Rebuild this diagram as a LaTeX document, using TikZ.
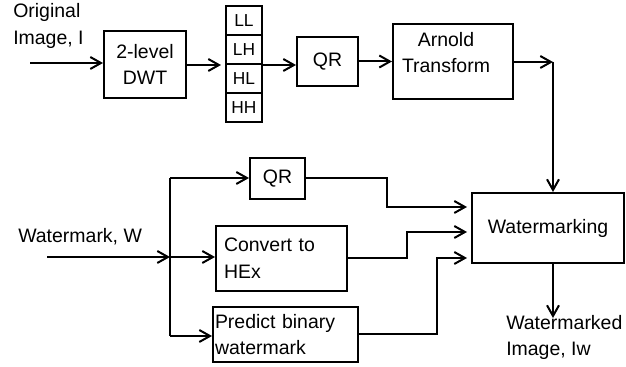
\documentclass[tikz,border=0pt]{standalone}
\usepackage{fontspec}
\setmainfont{Liberation Sans}
\usetikzlibrary{arrows.meta}
\tikzset{
  blk/.style={draw, line width=1.5pt, inner sep=0pt},
  band/.style={draw, line width=1.5pt, inner sep=0pt, minimum width=27pt, minimum height=21.75pt, font=\fontsize{13}{15}\selectfont},
  arr/.style={line width=1.5pt, -{Straight Barb[length=8pt,width=9pt]}},
  ln/.style={line width=1.5pt},
}
\begin{document}
\begin{tikzpicture}[x=0.75pt,y=-0.75pt,font=\fontsize{14.6}{20}\selectfont]
\useasboundingbox (0,0) rectangle (626,367);
% image branch
\node[anchor=west, align=left, inner sep=0pt] (orig) at (13,26) {Original\\Image, I};
\coordinate (inI) at (30,63);
\node[blk, minimum width=61.5pt, minimum height=50.25pt, align=center] (dwt) at (145,64.5) {2-level\\DWT};
\node[band] (LL) at (244,20.5) {LL};
\node[band] (LH) at (244,49.5) {LH};
\node[band] (HL) at (244,78.5) {HL};
\node[band] (HH) at (244,107.5) {HH};
\node[blk, minimum width=45.75pt, minimum height=36.75pt] (qrA) at (327.5,61.5) {QR};
\node[blk, minimum width=90pt, minimum height=56.25pt] (arnold) at (453,61.5) {};
\node[align=center, inner sep=0pt] (arnoldtxt) at (446,52.5) {Arnold\\Transform};
\node[blk, minimum width=114pt, minimum height=52.5pt] (wm) at (548,228) {Watermarking};
\coordinate (turn) at (553,62);
\coordinate (outI) at (553,318);
\node[anchor=west, align=left, inner sep=0pt] (wmimg) at (506,337.5) {Watermarked\\Image, Iw};
\draw[arr] (inI) -- (inI -| dwt.west);
\draw[arr] (dwt.east |- LH.south) -- ([xshift=-3pt]LH.south west);
\draw[arr] (LH.south east) -- (LH.south east -| qrA.west);
\draw[arr] (qrA.east) -- (qrA.east -| arnold.west);
\draw[arr] (arnold.east |- turn) -- (turn);
\draw[arr] (turn) -- (turn |- wm.north);
\draw[arr] (wm.south -| outI) -- (outI);
% watermark branch
\node[anchor=west, inner sep=0pt] (wmark) at (18,237) {Watermark, W};
\coordinate (inW) at (47,257);
\coordinate (busT) at (170,178);
\coordinate (busM) at (170,257);
\coordinate (busB) at (170,336);
\node[blk, minimum width=41.25pt, minimum height=30.75pt] (qrB) at (277.5,178.5) {QR};
\node[blk, minimum height=48.75pt, inner xsep=6pt, text width=86.25pt, align=left] (hex) at (281.5,258.5) {Convert to\\HEx};
\node[blk, minimum height=41.25pt, inner xsep=1.5pt, text width=105.75pt, align=left] (pred) at (285.5,334.5) {Predict binary\\watermark};
\coordinate (jA) at (387,207);
\coordinate (jB) at (407,232);
\coordinate (jC) at (437,258);
\draw[arr] (inW) -- (busM);
\draw[ln] (busT) -- (busB);
\draw[arr] (busT) -- (busT -| qrB.west);
\draw[arr] (busM) -- (busM -| hex.west);
\draw[arr] (busB) -- (busB -| pred.west);
\draw[arr, shorten >=3pt] (qrB.east) -| (jA) -- (jA -| wm.west);
\draw[arr, shorten >=3pt] (hex.east) -| (jB) -- (jB -| wm.west);
\draw[arr, shorten >=3pt] (pred.east) -| (jC) -- (jC -| wm.west);
\end{tikzpicture}
\end{document}
